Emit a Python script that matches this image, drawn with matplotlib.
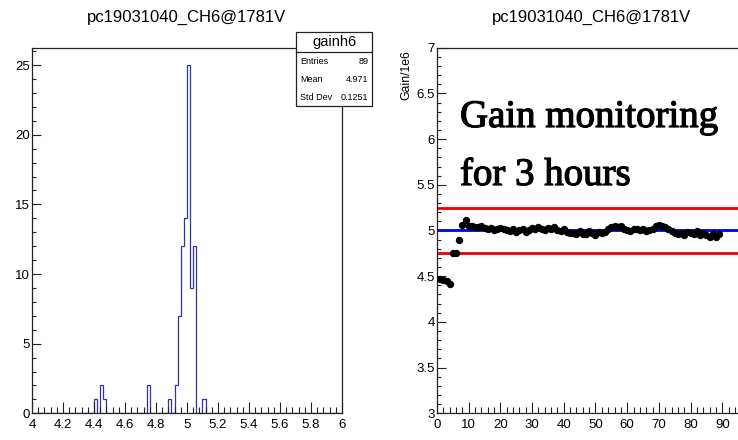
import numpy as np
import matplotlib
matplotlib.use("Agg")
import matplotlib.pyplot as plt
from matplotlib.ticker import MultipleLocator
from matplotlib.patches import Rectangle
from matplotlib.lines import Line2D
import matplotlib.patheffects as pe

plt.rcParams['font.family'] = ['Liberation Sans', 'DejaVu Sans']

# ---------------- data ----------------
title_text = "pc19031040_CH6@1781V"

# histogram (100 bins, 4..6): non-empty bins (lower edges) and their counts
hist_bin_lo = [4.40, 4.44, 4.46, 4.74, 4.88, 4.92, 4.94, 4.96, 4.98, 5.00, 5.02, 5.04, 5.10]
hist_counts = [1, 2, 1, 2, 1, 2, 7, 12, 14, 25, 9, 12, 1]
hist_name = "gainh6"
stat_labels = ["Entries", "Mean", "Std Dev"]
stat_values = ["89", "4.971", "0.1251"]

# gain monitoring graph
gain = [
    4.470, 4.455, 4.445, 4.410,
    4.755, 4.752, 4.895, 5.055, 5.110,
    5.045, 5.052, 5.041, 5.033, 5.047, 5.028,
    5.018, 5.025, 5.008, 5.014, 5.031, 5.011,
    5.004, 4.995, 5.012, 4.988, 5.006, 5.016, 4.984, 5.001,
    5.032, 5.015, 5.043, 5.019, 5.005, 5.026,
    5.013, 5.034, 5.009, 4.997, 5.019,
    4.985, 4.968, 4.976, 4.958, 4.991, 4.965, 4.957, 4.994,
    4.975, 4.953, 4.989, 4.972, 4.986,
    5.011, 5.042, 5.051, 5.036, 5.046, 5.017, 5.003,
    4.996, 5.012, 5.016, 5.007, 5.015, 4.992, 5.009,
    5.018, 5.045, 5.056, 5.049, 5.037, 5.013,
    4.995, 4.978, 4.964, 4.977, 4.956, 4.986, 4.971,
    4.962, 4.991, 4.947, 4.975, 4.951, 4.934, 4.966, 4.926, 4.957,
]
gain_x = list(range(1, len(gain) + 1))
ref_level = 5.0
band_hi = 5.25
band_lo = 4.75
ylabel_text = "Gain/1e6"
overlay_lines = ["Gain monitoring", "for 3 hours"]

# ---------------- figure ----------------
W, H = 738, 440
fig = plt.figure(figsize=(W / 100, H / 100), dpi=100)
fig.patch.set_facecolor('white')

def fx(px):
    return px / W

def fy(py):
    return 1 - py / H

frame_top, frame_bot = 47.7, 413.3
ax1 = fig.add_axes([fx(32), fy(frame_bot), fx(342) - fx(32), fy(frame_top) - fy(frame_bot)])
ax2 = fig.add_axes([fx(437), fy(frame_bot), fx(747) - fx(437), fy(frame_top) - fy(frame_bot)])

frame_col = '#222222'
for ax in (ax1, ax2):
    for s in ax.spines.values():
        s.set_color(frame_col)
        s.set_linewidth(0.9)
    ax.tick_params(which='both', direction='in', top=False, right=False,
                   colors=frame_col, labelcolor='black', labelsize=9.5, width=0.8)
    ax.tick_params(axis='x', which='major', length=8, pad=4)
    ax.tick_params(axis='x', which='minor', length=4)
    ax.tick_params(axis='y', which='major', length=6.5, pad=1.5)
    ax.tick_params(axis='y', which='minor', length=3.2)

# ---- left: histogram ----
nb = 100
edges = np.linspace(4.0, 6.0, nb + 1)
counts = np.zeros(nb)
for lo, c in zip(hist_bin_lo, hist_counts):
    counts[int(round((lo - 4.0) / 0.02))] = c
ax1.stairs(counts, edges, color='#333399', linewidth=0.9)
ax1.set_xlim(4.0, 6.0)
ax1.set_ylim(0, 26.25)
ax1.xaxis.set_major_locator(MultipleLocator(0.2))
ax1.xaxis.set_minor_locator(MultipleLocator(0.04))
ax1.yaxis.set_major_locator(MultipleLocator(5))
ax1.yaxis.set_minor_locator(MultipleLocator(1))
ax1.set_xticks(np.arange(4.0, 6.001, 0.2))
ax1.set_xticklabels(["4", "4.2", "4.4", "4.6", "4.8", "5", "5.2", "5.4", "5.6", "5.8", "6"])

fig.text(fx(186.5), fy(17), title_text, ha='center', va='center', fontsize=12)
fig.text(fx(592), fy(17), title_text, ha='center', va='center', fontsize=12)

# stats box
bx0, bx1, by0, by1, bhd = 295.7, 372.3, 31.7, 106, 51.7
fig.patches.append(Rectangle((fx(bx0), fy(by1)), fx(bx1) - fx(bx0), fy(by0) - fy(by1),
                             transform=fig.transFigure, facecolor='white',
                             edgecolor=frame_col, linewidth=0.9, zorder=5))
fig.lines.append(Line2D([fx(bx0), fx(bx1)], [fy(bhd), fy(bhd)], transform=fig.transFigure,
                        color=frame_col, linewidth=0.9, zorder=6))
fig.text(fx((bx0 + bx1) / 2), fy((by0 + bhd) / 2), hist_name, ha='center', va='center',
         fontsize=10.5, zorder=7)
for i, (lab, val) in enumerate(zip(stat_labels, stat_values)):
    yy = fy(61 + i * 18)
    fig.text(fx(300), yy, lab, ha='left', va='center', fontsize=6.5, zorder=7)
    fig.text(fx(368.5), yy, val, ha='right', va='center', fontsize=6.5, zorder=7)

# ---- right: gain vs time ----
ax2.set_xlim(0, 97.8)
ax2.set_ylim(3, 7)
ax2.spines['right'].set_visible(False)
ax2.axhline(band_hi, color='#ee0000', linewidth=2.0, zorder=2)
ax2.axhline(band_lo, color='#ee0000', linewidth=2.0, zorder=2)
ax2.axhline(ref_level, color='#0000ee', linewidth=2.0, zorder=2)
ax2.plot(gain_x, gain, linestyle='none', marker='o', markersize=4.3,
         color='black', zorder=3)
ax2.xaxis.set_major_locator(MultipleLocator(10))
ax2.xaxis.set_minor_locator(MultipleLocator(2))
ax2.yaxis.set_major_locator(MultipleLocator(0.5))
ax2.yaxis.set_minor_locator(MultipleLocator(0.1))
yt = np.arange(3.0, 7.001, 0.5)
ax2.set_yticks(yt)
ax2.set_yticklabels([("%g" % v) for v in yt])

fig.text(fx(406.7), fy(50), ylabel_text, rotation=90, ha='center', va='top', fontsize=8.8)

for line, base in zip(overlay_lines, (127, 185)):
    fig.text(fx(460), fy(base), line, ha='left', va='baseline',
             fontsize=28.0, color='black',
             family=['Liberation Serif', 'DejaVu Serif'],
             path_effects=[pe.withStroke(linewidth=0.9, foreground='black')])

fig.savefig("out.png", dpi=100, facecolor='white')
